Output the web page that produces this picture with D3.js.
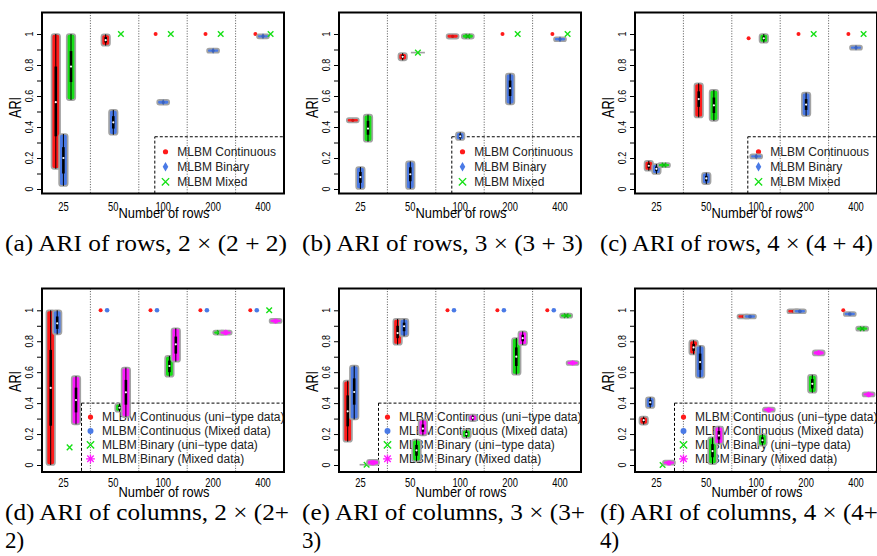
<!DOCTYPE html>
<html>
<head>
<meta charset="utf-8">
<script src="https://cdn.jsdelivr.net/npm/d3@7"></script>
<style>
body { margin: 0; background: #fff; }
text { font-family: "Liberation Sans", Arial, sans-serif; }
.cap { font-family: "Liberation Serif", "Times New Roman", serif; }
</style>
</head>
<body>
<svg id="fig" width="877" height="556"></svg>
<script>
// groups on the x axis (number of rows) and y ticks
var groups = ["25", "50", "100", "200", "400"];
var yTicks = [0, 0.1, 0.2, 0.3, 0.4, 0.5, 0.6, 0.7, 0.8, 0.9, 1];
var yLabels = [0, 0.2, 0.4, 0.6, 0.8, 1];

var rowSeries = ["MLBM Continuous", "MLBM Binary", "MLBM Mixed"];
var colSeries = ["MLBM Continuous (uni\u2212type data)", "MLBM Continuous (Mixed data)",
                 "MLBM Binary (uni\u2212type data)", "MLBM Binary (Mixed data)"];

// every entry: [min, q1, median, q3, max] of the ARI, one per group
var a_cont = [[0.13, 0.34, 0.56, 0.79, 1], [0.925, 0.945, 0.96, 0.98, 0.998], [1, 1, 1, 1, 1], [1, 1, 1, 1, 1], [1, 1, 1, 1, 1]];
var a_bin  = [[0.02, 0.10, 0.20, 0.27, 0.355], [0.35, 0.39, 0.43, 0.47, 0.51], [0.545, 0.553, 0.56, 0.567, 0.575], [0.885, 0.889, 0.892, 0.895, 0.9], [0.98, 0.983, 0.985, 0.987, 0.99]];
var a_mix  = [[0.574, 0.69, 0.79, 0.89, 1], [1, 1, 1, 1, 1], [1, 1, 1, 1, 1], [1, 1, 1, 1, 1], [1, 1, 1, 1, 1]];

var b_cont = [[0.43, 0.437, 0.443, 0.45, 0.457], [0.83, 0.843, 0.853, 0.865, 0.877], [0.97, 0.978, 0.985, 0.992, 1], [1, 1, 1, 1, 1], [1, 1, 1, 1, 1]];
var b_bin  = [[0, 0.04, 0.077, 0.11, 0.142], [0, 0.05, 0.095, 0.14, 0.178], [0.316, 0.33, 0.34, 0.352, 0.366], [0.546, 0.6, 0.65, 0.7, 0.744], [0.96, 0.963, 0.966, 0.969, 0.972]];
var b_mix  = [[0.305, 0.35, 0.39, 0.44, 0.48], [0.878, 0.879, 0.88, 0.881, 0.882], [0.97, 0.978, 0.985, 0.992, 1], [1, 1, 1, 1, 1], [1, 1, 1, 1, 1]];

var c_cont = [[0.118, 0.135, 0.15, 0.165, 0.181], [0.462, 0.53, 0.58, 0.63, 0.682], [0.972, 0.972, 0.972, 0.972, 0.972], [1, 1, 1, 1, 1], [1, 1, 1, 1, 1]];
var c_bin  = [[0.097, 0.115, 0.13, 0.145, 0.161], [0.032, 0.05, 0.068, 0.085, 0.105], [0.2, 0.205, 0.21, 0.215, 0.22], [0.471, 0.51, 0.545, 0.58, 0.622], [0.906, 0.909, 0.912, 0.915, 0.918]];
var c_mix  = [[0.145, 0.15, 0.155, 0.158, 0.162], [0.44, 0.49, 0.54, 0.59, 0.639], [0.944, 0.96, 0.972, 0.985, 1], [1, 1, 1, 1, 1], [1, 1, 1, 1, 1]];

var d_contUni = [[0, 0.254, 0.498, 0.744, 1], [1, 1, 1, 1, 1], [1, 1, 1, 1, 1], [1, 1, 1, 1, 1], [1, 1, 1, 1, 1]];
var d_contMix = [[0.845, 0.88, 0.916, 0.96, 1], [1, 1, 1, 1, 1], [1, 1, 1, 1, 1], [1, 1, 1, 1, 1], [1, 1, 1, 1, 1]];
var d_binUni  = [[0.114, 0.114, 0.114, 0.114, 0.114], [0.345, 0.357, 0.37, 0.383, 0.397], [0.571, 0.6, 0.64, 0.675, 0.705], [0.85, 0.853, 0.856, 0.859, 0.862], [1, 1, 1, 1, 1]];
var d_binMix  = [[0.263, 0.34, 0.42, 0.5, 0.575], [0.31, 0.39, 0.47, 0.55, 0.63], [0.668, 0.72, 0.78, 0.83, 0.884], [0.85, 0.853, 0.856, 0.859, 0.862], [0.925, 0.928, 0.93, 0.933, 0.937]];

var e_contUni = [[0.151, 0.25, 0.347, 0.45, 0.545], [0.778, 0.82, 0.853, 0.9, 0.944], [1, 1, 1, 1, 1], [1, 1, 1, 1, 1], [1, 1, 1, 1, 1]];
var e_contMix = [[0.295, 0.39, 0.472, 0.56, 0.642], [0.832, 0.865, 0.897, 0.92, 0.944], [1, 1, 1, 1, 1], [1, 1, 1, 1, 1], [1, 1, 1, 1, 1]];
var e_binUni  = [[0, 0.001, 0.002, 0.003, 0.004], [0.024, 0.06, 0.095, 0.13, 0.164], [0.175, 0.188, 0.2, 0.214, 0.228], [0.584, 0.64, 0.7, 0.76, 0.821], [0.958, 0.962, 0.965, 0.968, 0.972]];
var e_binMix  = [[0, 0.008, 0.015, 0.024, 0.034], [0.192, 0.215, 0.235, 0.262, 0.293], [0.284, 0.295, 0.305, 0.315, 0.325], [0.776, 0.8, 0.82, 0.842, 0.864], [0.652, 0.656, 0.66, 0.663, 0.667]];

var f_contUni = [[0.261, 0.276, 0.29, 0.302, 0.313], [0.715, 0.738, 0.76, 0.783, 0.806], [0.955, 0.958, 0.96, 0.962, 0.965], [0.99, 0.992, 0.994, 0.996, 0.998], [1, 1, 1, 1, 1]];
var f_contMix = [[0.369, 0.387, 0.405, 0.42, 0.438], [0.564, 0.615, 0.665, 0.72, 0.771], [0.955, 0.958, 0.96, 0.962, 0.965], [0.99, 0.992, 0.994, 0.996, 0.998], [0.97, 0.973, 0.976, 0.979, 0.982]];
var f_binUni  = [[0, 0, 0, 0, 0], [0.006, 0.05, 0.09, 0.135, 0.179], [0.125, 0.143, 0.16, 0.18, 0.2], [0.467, 0.495, 0.525, 0.555, 0.583], [0.876, 0.879, 0.881, 0.883, 0.886]];
var f_binMix  = [[0.005, 0.009, 0.013, 0.018, 0.025], [0.136, 0.165, 0.19, 0.22, 0.248], [0.35, 0.353, 0.356, 0.36, 0.365], [0.708, 0.716, 0.725, 0.733, 0.741], [0.452, 0.454, 0.456, 0.458, 0.46]];

var captionsTop = ["(a) ARI of rows, 2 \u00d7 (2 + 2)", "(b) ARI of rows, 3 \u00d7 (3 + 3)", "(c) ARI of rows, 4 \u00d7 (4 + 4)"];
var captionsBot = [["(d) ARI of columns, 2 \u00d7 (2+", "2)"], ["(e) ARI of columns, 3 \u00d7 (3+", "3)"], ["(f) ARI of columns, 4 \u00d7 (4+", "4)"]];

// ---- styles / layout ----
var RED = "#ff1a1a", BLUE = "#4a7ae6", GREEN = "#16e016", MAG = "#ff19ff";
var style3 = { colors: [RED, BLUE, GREEN], markers: ["dot", "diamond", "x"], offsets: [-7.6, 0, 7.6],
               labels: rowSeries, legDx: 112.8, legRow: 15, legFirst: 15, mk: 10.7, tx: 22.5 };
var style4 = { colors: [RED, BLUE, GREEN, MAG], markers: ["dot", "dot2", "x", "star"], offsets: [-12.7, -6.2, 6.2, 12.6],
               labels: colSeries, legDx: 39.5, legRow: 13.9, legFirst: 14, mk: 9, tx: 20.6 };

var rows = [
  { top: 12.5, bottom: 193.5, y0: 189, y1: 34, tickBase: 211, labBase: 218, ariY: 107.5, legTop: 0.337, style: style3 },
  { top: 288.5, bottom: 472, y0: 465, y1: 310.3, tickBase: 487, labBase: 497, ariY: 381.5, legTop: 0.40, style: style4 }
];

var panels = [
  { left: 42,  row: 0, series: [a_cont, a_bin, a_mix] },
  { left: 339, row: 0, series: [b_cont, b_bin, b_mix] },
  { left: 635, row: 0, series: [c_cont, c_bin, c_mix] },
  { left: 42,  row: 1, series: [d_contUni, d_contMix, d_binUni, d_binMix] },
  { left: 339, row: 1, series: [e_contUni, e_contMix, e_binUni, e_binMix] },
  { left: 635, row: 1, series: [f_contUni, f_contMix, f_binUni, f_binMix] }
];
var W = 242;

var svg = d3.select("#fig");

function marker(g, cx, cy, type, color, s) {
    s = s || 1;
    if (type === "dot" || type === "dot2") {
        g.append("circle").attr("cx", cx).attr("cy", cy).attr("r", (type === "dot" ? 2 : 2.3) * s).attr("fill", color);
    } else if (type === "diamond") {
        g.append("path").attr("transform", "translate(" + cx + "," + cy + ")")
            .attr("d", d3.symbol().type(d3.symbolDiamond).size(16 * s * s)()).attr("fill", color);
    } else if (type === "x") {
        var a = 2.8 * s;
        g.append("path").attr("d", "M" + (cx - a) + "," + (cy - a) + "L" + (cx + a) + "," + (cy + a) +
                "M" + (cx - a) + "," + (cy + a) + "L" + (cx + a) + "," + (cy - a))
            .attr("stroke", color).attr("stroke-width", 1.4).attr("fill", "none");
    } else {
        var b = 3.4 * s, c = 2.5 * s;
        g.append("path").attr("d", "M" + (cx - b) + "," + cy + "H" + (cx + b) + "M" + cx + "," + (cy - b) + "V" + (cy + b) +
                "M" + (cx - c) + "," + (cy - c) + "L" + (cx + c) + "," + (cy + c) +
                "M" + (cx - c) + "," + (cy + c) + "L" + (cx + c) + "," + (cy - c))
            .attr("stroke", color).attr("stroke-width", 1.3).attr("fill", "none");
    }
}

function violin(g, cx, v, color, type, y) {
    var lo = v[0], q1 = v[1], med = v[2], q3 = v[3], hi = v[4];
    if (hi - lo === 0) { marker(g, cx, y(med), type, color); return; }
    if (hi - lo < 0.006) {
        // nearly constant: flat grey line with the point on it
        g.append("line").attr("x1", cx - 7).attr("x2", cx + 7).attr("y1", y(med)).attr("y2", y(med))
            .attr("stroke", "#a0a0a0").attr("stroke-width", 1.6);
        marker(g, cx, y(med), type, color);
        return;
    }
    var yt = y(hi), h = y(lo) - y(hi);
    var w = h < 6 ? 12 : 8.5;
    if (h < 4) { yt -= (4 - h) / 2; h = 4; }
    g.append("rect").attr("x", cx - w / 2).attr("y", yt).attr("width", w).attr("height", h)
        .attr("rx", Math.min(2.5, h / 2)).attr("fill", color)
        .attr("stroke", "#a3a3a3").attr("stroke-width", 1.7);
    if (h >= 6) {
        g.append("line").attr("x1", cx).attr("x2", cx).attr("y1", y(hi)).attr("y2", y(lo))
            .attr("stroke", "#000").attr("stroke-width", 1);
        g.append("line").attr("x1", cx).attr("x2", cx).attr("y1", y(q3)).attr("y2", y(q1))
            .attr("stroke", "#000").attr("stroke-width", 2.6);
        g.append("circle").attr("cx", cx).attr("cy", y(med)).attr("r", 1.1).attr("fill", "#fff");
    } else {
        marker(g, cx, y(med), type, type === "star" ? color : d3.color(color).darker(0.6), 0.8);
    }
}

function drawPanel(p) {
    var r = rows[p.row], st = r.style;
    var left = p.left, right = left + W;
    var y = d3.scaleLinear().domain([0, 1]).range([r.y0, r.y1]);
    var x = d3.scaleLinear().domain([0, groups.length - 1]).range([left + 21.4, left + 221]);
    var g = svg.append("g");

    // dotted group dividers
    d3.range(1, groups.length).forEach(function(i) {
        var xx = left + W * i / groups.length;
        g.append("line").attr("x1", xx).attr("x2", xx).attr("y1", r.top).attr("y2", r.bottom)
            .attr("stroke", "#555").attr("stroke-width", 1).attr("stroke-dasharray", "1,1.6");
    });

    // legend
    var lx = left + st.legDx, ly = y(r.legTop);
    g.append("rect").attr("x", lx).attr("y", ly).attr("width", right - lx).attr("height", r.bottom - ly)
        .attr("fill", "none").attr("stroke", "#000").attr("stroke-width", 1).attr("stroke-dasharray", "3,2");
    st.labels.forEach(function(lab, i) {
        var cy = ly + st.legFirst + i * st.legRow;
        marker(g, lx + st.mk, cy, st.markers[i], st.colors[i], 1.3);
        g.append("text").attr("x", lx + st.tx).attr("y", cy + 4.3).attr("font-size", 12).attr("fill", "#222").text(lab);
    });

    // violins
    p.series.forEach(function(s, si) {
        s.forEach(function(v, gi) {
            violin(g, x(gi) + st.offsets[si], v, st.colors[si], st.markers[si], y);
        });
    });

    // frame
    g.append("rect").attr("x", left).attr("y", r.top).attr("width", W).attr("height", r.bottom - r.top)
        .attr("fill", "none").attr("stroke", "#000").attr("stroke-width", 2);

    // y axis
    var ax = g.append("g").attr("transform", "translate(" + (left - 1) + ",0)")
        .call(d3.axisLeft(y).tickValues(yTicks).tickSize(4).tickFormat(""));
    ax.select(".domain").remove();
    ax.selectAll("line").attr("stroke", "#000");
    yLabels.forEach(function(t) {
        g.append("text").attr("transform", "translate(" + (left - 9.3) + "," + y(t) + ") rotate(-90) scale(0.85,1)")
            .attr("text-anchor", "middle").attr("font-size", 10.5).text(t === 0 ? "0" : t === 1 ? "1" : t.toFixed(1));
    });
    g.append("text").attr("transform", "translate(" + (left - 20.7) + "," + r.ariY + ") rotate(-90) scale(0.75,1)")
        .attr("text-anchor", "middle").attr("font-size", 17).text("ARI");

    // x axis labels
    groups.forEach(function(lab, i) {
        g.append("text").attr("transform", "translate(" + x(i) + "," + r.tickBase + ") scale(0.75,1)")
            .attr("text-anchor", "middle").attr("font-size", 12.5).text(lab);
    });
    g.append("text").attr("transform", "translate(" + (left + 122) + "," + r.labBase + ") scale(0.86,1)")
        .attr("text-anchor", "middle").attr("font-size", 15).text("Number of rows");
}

panels.forEach(drawPanel);

// captions
var capX = [5, 302, 600];
var capLenTop = [282, 281, 273], capLenBot = [284, 283, 278];
captionsTop.forEach(function(c, i) {
    svg.append("text").attr("class", "cap").attr("x", capX[i]).attr("y", 251).attr("font-size", 23)
        .attr("textLength", capLenTop[i]).attr("lengthAdjust", "spacingAndGlyphs").text(c);
});
captionsBot.forEach(function(c, i) {
    svg.append("text").attr("class", "cap").attr("x", capX[i]).attr("y", 520).attr("font-size", 23)
        .attr("textLength", capLenBot[i]).attr("lengthAdjust", "spacingAndGlyphs").text(c[0]);
    svg.append("text").attr("class", "cap").attr("x", capX[i]).attr("y", 548).attr("font-size", 23).text(c[1]);
});
</script>
</body>
</html>
